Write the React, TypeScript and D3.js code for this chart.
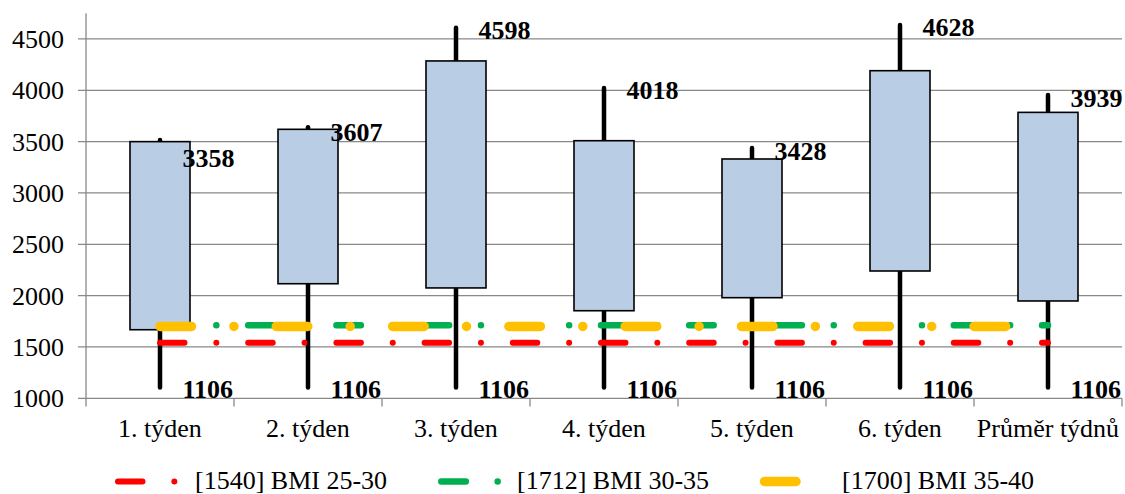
import React from 'react';
import * as d3 from 'd3';

const categories = ['1. týden', '2. týden', '3. týden', '4. týden', '5. týden', '6. týden', 'Průměr týdnů'];
const boxBottom = [1668, 2116, 2075, 1853, 1980, 2240, 1948];
const boxTop = [3500, 3620, 4286, 3509, 3331, 4191, 3785];
const highs = [3516, 3640, 4610, 4023, 3439, 4636, 3954];
const lows = [1106, 1106, 1106, 1106, 1106, 1106, 1106];
const highLabels = [3358, 3607, 4598, 4018, 3428, 4628, 3939];
const lowLabels = [1106, 1106, 1106, 1106, 1106, 1106, 1106];

const refNames = ['[1540] BMI 25-30', '[1712] BMI 30-35', '[1700] BMI 35-40'];
const refValues = [1540, 1712, 1700];
const refColors = ['#FF0000', '#00B050', '#FFC000'];

const yTicks = [1000, 1500, 2000, 2500, 3000, 3500, 4000, 4500];

const W = 1125;
const H = 494;
const FONT = '"Liberation Serif", "Times New Roman", serif';

export default function App() {
  const x = d3.scaleBand<string>().domain(categories).range([86, 1122]).padding(0);
  const y = d3.scaleLinear().domain([1000, 4750]).range([398.3, 13.3]);
  const bw = 60;
  const cx = (c: string) => (x(c) as number) + x.bandwidth() / 2;

  const lineStyles = [
    { width: 6, dash: '24.5 31.85 0 31.85' },
    { width: 6.5, dash: '24.5 31.85 0 31.85' },
    { width: 9.5, dash: '31.5 42.4 0 42.4' },
  ];

  const lineGen = d3.line<string>().x((c) => cx(c));

  const legendItems = [
    { x0: 118, x1: 176, tx: 195 },
    { x0: 441.3, x1: 498, tx: 517 },
    { x0: 764.5, x1: 800, tx: 842 },
  ];

  return (
    <svg width={W} height={H} style={{ position: 'absolute', left: 0, top: 0, background: '#fff' }}>
      {/* gridlines */}
      {yTicks.map((t) => (
        <line key={'g' + t} x1={78} x2={1122} y1={y(t)} y2={y(t)} stroke="#898989" strokeWidth={1.3} />
      ))}
      {/* y axis */}
      <line x1={86} x2={86} y1={y(4750)} y2={406.5} stroke="#898989" strokeWidth={1.3} />
      {/* x ticks */}
      {categories.map((c) => (
        <line key={'xt' + c} x1={(x(c) as number) + x.bandwidth()} x2={(x(c) as number) + x.bandwidth()} y1={y(1000)} y2={406.5} stroke="#898989" strokeWidth={1.3} />
      ))}
      {/* y labels */}
      {yTicks.map((t) => (
        <text key={'yl' + t} x={64} y={y(t) + 9} textAnchor="end" fontFamily={FONT} fontSize={26} fill="#000">
          {t}
        </text>
      ))}
      {/* x labels */}
      {categories.map((c) => (
        <text key={'xl' + c} x={cx(c)} y={437} textAnchor="middle" fontFamily={FONT} fontSize={26} fill="#000">
          {c}
        </text>
      ))}
      {/* whiskers and boxes */}
      {categories.map((c, i) => (
        <g key={'b' + c}>
          <line x1={cx(c)} x2={cx(c)} y1={y(highs[i])} y2={y(boxTop[i])} stroke="#000" strokeWidth={4.5} strokeLinecap="round" />
          <line x1={cx(c)} x2={cx(c)} y1={y(boxBottom[i])} y2={y(lows[i])} stroke="#000" strokeWidth={4.5} strokeLinecap="round" />
          <rect x={cx(c) - bw / 2} y={y(boxTop[i])} width={bw} height={y(boxBottom[i]) - y(boxTop[i])} fill="#B9CDE5" stroke="#000" strokeWidth={1.6} />
        </g>
      ))}
      {/* reference lines */}
      {refValues.map((v, k) => (
        <path
          key={'r' + k}
          d={lineGen.y(() => y(v))(categories) as string}
          fill="none"
          stroke={refColors[k]}
          strokeWidth={lineStyles[k].width}
          strokeDasharray={lineStyles[k].dash}
          strokeLinecap="round"
        />
      ))}
      {/* data labels */}
      {categories.map((c, i) => (
        <g key={'dl' + c}>
          <text x={cx(c) + 22.5} y={y(highLabels[i]) + 10.5} fontFamily={FONT} fontSize={26} fontWeight="bold" fill="#000">
            {highLabels[i]}
          </text>
          <text x={cx(c) + 22.5} y={y(lowLabels[i]) + 10.8} fontFamily={FONT} fontSize={26} fontWeight="bold" fill="#000">
            {lowLabels[i]}
          </text>
        </g>
      ))}
      {/* legend */}
      {refNames.map((n, k) => (
        <g key={'lg' + k}>
          <line
            x1={legendItems[k].x0}
            x2={legendItems[k].x1}
            y1={481.5}
            y2={481.5}
            stroke={refColors[k]}
            strokeWidth={lineStyles[k].width}
            strokeDasharray={lineStyles[k].dash}
            strokeLinecap="round"
          />
          <text x={legendItems[k].tx} y={488.5} fontFamily={FONT} fontSize={26} fill="#000">
            {n}
          </text>
        </g>
      ))}
    </svg>
  );
}
